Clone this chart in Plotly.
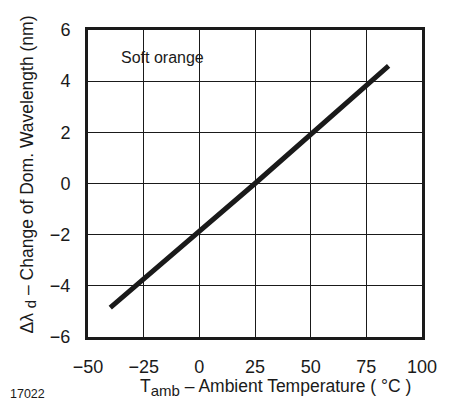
import plotly.graph_objects as go

temps = [-40, 0, 25, 85]
delta_wl = [-4.85, -1.83, 0.0, 4.6]
x_ticks = [-50, -25, 0, 25, 50, 75, 100]
y_ticks = [-6, -4, -2, 0, 2, 4, 6]
label = "Soft orange"
x_title = ("T<sub><span style='font-size:15px'>amb</span></sub> "
           "\u2013 Ambient Temperature ( °C )")
y_title = ("\u0394\u03bb <sub><span style='font-size:15px'>d</span></sub> "
           "\u2013 Change of Dom. Wavelength (nm)")
fig_id = "17022"

FONT = "Liberation Sans, Arial, Helvetica, sans-serif"
INK = "#1a1a1a"

fig = go.Figure()
fig.add_trace(go.Scatter(x=temps, y=delta_wl, mode="lines",
                         line=dict(color=INK, width=5), showlegend=False))

# page has an 8px body margin: figure is offset by (8, 8)
fig.update_layout(
    width=441, height=395,
    margin=dict(l=80, r=16, t=16, b=66),
    plot_bgcolor="white", paper_bgcolor="white",
    font=dict(family=FONT, size=16, color=INK),
)
fig.update_xaxes(range=[-50, 100], tickvals=x_ticks,
                 ticktext=[str(v).replace("-", "\u2212") for v in x_ticks],
                 tickfont=dict(size=18),
                 showgrid=True, gridcolor=INK, gridwidth=1,
                 showline=True, linecolor=INK, linewidth=3, mirror=True,
                 zeroline=False, ticks="", ticklabelstandoff=11)
fig.update_yaxes(range=[-6, 6], tickvals=y_ticks,
                 ticktext=[str(v).replace("-", "\u2212") for v in y_ticks],
                 tickfont=dict(size=18),
                 showgrid=True, gridcolor=INK, gridwidth=1,
                 showline=True, linecolor=INK, linewidth=3, mirror=True,
                 zeroline=False, ticks="", ticklabelstandoff=11)
fig.add_annotation(x=-36, y=4.92, xref="x", yref="y", text=label, showarrow=False,
                   xanchor="left", yanchor="middle", font=dict(size=16))
fig.add_annotation(x=0.5, y=0, xref="paper", yref="paper", text=x_title, showarrow=False,
                   xanchor="center", yanchor="middle", xshift=20, yshift=-50,
                   font=dict(size=17.5))
fig.add_annotation(x=0, y=0.5, xref="paper", yref="paper", text=y_title, showarrow=False,
                   textangle=-90, xanchor="center", yanchor="middle", xshift=-60, yshift=9,
                   font=dict(size=17.5))
fig.add_annotation(x=0, y=0, xref="paper", yref="paper", text=fig_id, showarrow=False,
                   xanchor="left", yanchor="middle", xshift=-80, yshift=-57,
                   font=dict(size=12.5))
fig.write_html("out.html")
